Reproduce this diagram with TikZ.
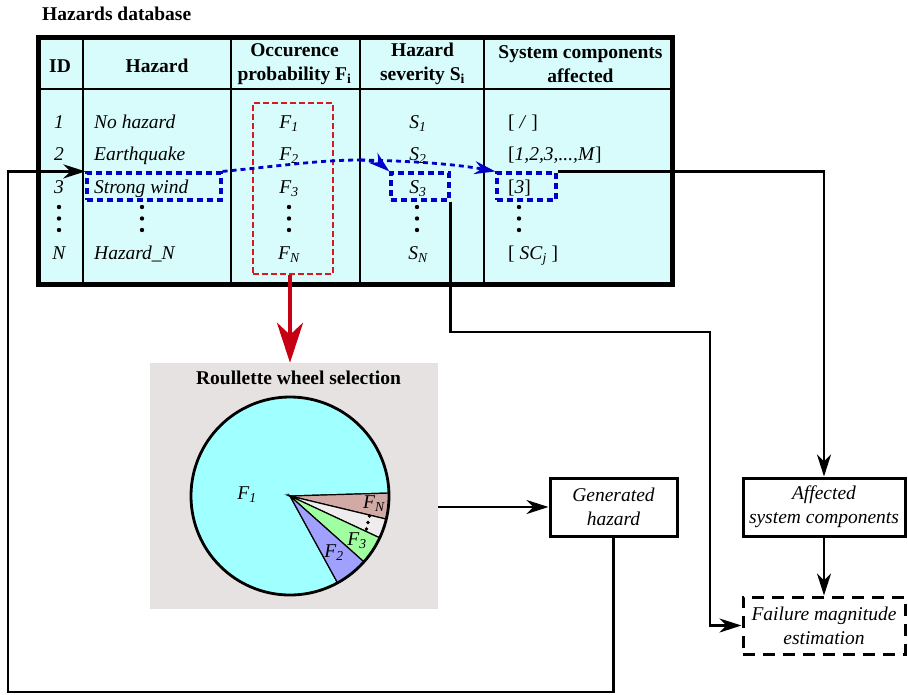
\documentclass[tikz,border=0pt]{standalone}
\usepackage{fontspec}
\setmainfont{Liberation Serif}
\usepackage{tikz}
\usetikzlibrary{arrows.meta, positioning}
\usepackage{xcolor}
\definecolor{dbcyan}{RGB}{216, 252, 252}
\definecolor{wheelgray}{RGB}{230, 226, 226}
\definecolor{pickblue}{RGB}{0, 0, 200}
\definecolor{probred}{RGB}{215, 25, 35}
\definecolor{arrowred}{RGB}{200, 0, 20}
\definecolor{fonefill}{RGB}{160, 255, 255}
\definecolor{ftwofill}{RGB}{160, 160, 255}
\definecolor{fthreefill}{RGB}{160, 255, 160}
\definecolor{frestfill}{RGB}{238, 236, 236}
\definecolor{fnfill}{RGB}{210, 170, 165}

\begin{document}
\fontsize{19.5}{24}\selectfont
\begin{tikzpicture}[
  x=1pt, y=-1pt,
  dbframe/.style={draw, line width=5pt, fill=dbcyan, minimum width=634pt, minimum height=247pt, inner sep=0},
  rule/.style={line width=1.6pt},
  cell/.style={font=\itshape, inner sep=0pt},
  head/.style={font=\bfseries, align=center, inner sep=0pt},
  bluebox/.style={draw=pickblue, line width=3.2pt, dash pattern=on 6pt off 4pt, minimum height=27pt, inner sep=0},
  redbox/.style={draw=probred, line width=2.8pt, dash pattern=on 6pt off 3pt, minimum width=80pt, minimum height=171pt, inner sep=0},
  pickline/.style={pickblue, line width=2.8pt, dash pattern=on 5pt off 4pt},
  pick/.style={pickline, -{Stealth[length=21pt, width=13pt, inset=7pt]}},
  conn/.style={line width=2.4pt, -{Stealth[length=22pt, width=14pt, inset=7pt]}},
  outbox/.style={draw, line width=3pt, minimum height=58pt, align=center, font=\itshape, inner sep=2pt},
  slice/.style={draw, line width=1.2pt}
]
  \useasboundingbox (0,0) rectangle (908,694);

  % Hazards database
  \node[font=\bfseries, anchor=west, inner sep=0] (dbtitle) at (42,14) {Hazards database};
  \node[dbframe] (db) at (355,160.5) {};
  \draw[rule] (83,37) -- (83,284);
  \draw[rule] (231,37) -- (231,284);
  \draw[rule] (360,37) -- (360,284);
  \draw[rule] (484,37) -- (484,284);
  \draw[line width=2.2pt] (38,89) -- (672,89);

  \node[head, anchor=base] (hid) at (60,72) {ID};
  \node[head, anchor=base] (hhaz) at (157,72) {Hazard};
  \node[head] (hocc) at (294.5,64) {Occurence\\probability F\textsubscript{i}};
  \node[head] (hsev) at (422.5,64) {Hazard\\severity S\textsubscript{i}};
  \node[head] (hsc) at (580.5,64) {System components\\affected};

  % ID column
  \node[cell, anchor=base] (id1) at (59,128) {1};
  \node[cell, anchor=base] (id2) at (59,160) {2};
  \node[cell, anchor=base] (id3) at (59,193) {3};
  \node[cell, anchor=base] (idn) at (59,259) {N};

  % Hazard column
  \node[cell, anchor=base west] (hz1) at (94,128) {No hazard};
  \node[cell, anchor=base west] (hz2) at (94,160) {Earthquake};
  \node[cell, anchor=base west] (hz3) at (94,193) {Strong wind};
  \node[cell, anchor=base west] (hzn) at (94,259) {Hazard\_N};

  % Probability column
  \node[cell, anchor=base] (pf1) at (289,128) {F\textsubscript{1}};
  \node[cell, anchor=base] (pf2) at (289,160) {F\textsubscript{2}};
  \node[cell, anchor=base] (pf3) at (289,193) {F\textsubscript{3}};
  \node[cell, anchor=base] (pfn) at (289,259) {F\textsubscript{N}};

  % Severity column
  \node[cell, anchor=base] (sv1) at (418,128) {S\textsubscript{1}};
  \node[cell, anchor=base] (sv2) at (418,160) {S\textsubscript{2}};
  \node[cell, anchor=base] (sv3) at (418,193) {S\textsubscript{3}};
  \node[cell, anchor=base] (svn) at (418,259) {S\textsubscript{N}};

  % Components column
  \node[inner sep=0, anchor=base west] (sc1) at (508,128) {[\ \textit{/}\ ]};
  \node[inner sep=0, anchor=base west] (sc2) at (508,160) {[\textit{1,2,3,...,M}]};
  \node[inner sep=0, anchor=base west] (sc3) at (508,193) {[\textit{3}]};
  \node[inner sep=0, anchor=base west] (scn) at (508,259) {[\ \textit{SC}\textsubscript{\textit{j}}\ ]};

  \foreach \x in {59,142,289,417,519}
    \foreach \y in {207,218.5,230}
      \fill (\x,\y) circle (2.2pt);

  % selection boxes
  \node[redbox] (fbox) at (293,188.5) {};
  \node[bluebox, minimum width=134pt] (swbox) at (154,186.5) {};
  \node[bluebox, minimum width=58pt] (s3box) at (420,186.5) {};
  \node[bluebox, minimum width=59pt] (sc3box) at (526.5,186.5) {};

  \coordinate (fork) at (360,160);
  \draw[pickline] (swbox.north east) .. controls (280,166) and (320,160) .. (fork);
  \draw[pick] (fork) .. controls (375,160) and (383,166) .. (s3box.north west);
  \draw[pick] (fork) .. controls (420,161) and (460,165) .. (sc3box.north west);

  % Roulette wheel
  \node[fill=wheelgray, minimum width=288pt, minimum height=246pt, inner sep=0] (wheel) at (294,486) {};
  \node[font=\bfseries, inner sep=0] (wheeltitle) at (298.5,378) {Roullette wheel selection};
  \draw[arrowred, line width=4.5pt, -{Stealth[length=40pt, width=26pt, inset=12pt]}]
    ([xshift=-3pt]fbox.south) -- ([xshift=-3pt]fbox.south |- wheel.north);

  \coordinate (pc) at (290,496);
  \filldraw[slice, fill=fonefill] (pc) -- ++(61.3:99) arc[start angle=61.3, end angle=358.3, radius=99] -- cycle;
  \filldraw[slice, fill=fnfill] (pc) -- ++(-1.7:99) arc[start angle=-1.7, end angle=13.5, radius=99] -- cycle;
  \filldraw[slice, fill=frestfill] (pc) -- ++(13.5:99) arc[start angle=13.5, end angle=25, radius=99] -- cycle;
  \filldraw[slice, fill=fthreefill] (pc) -- ++(25:99) arc[start angle=25, end angle=41.7, radius=99] -- cycle;
  \filldraw[slice, fill=ftwofill] (pc) -- ++(41.7:99) arc[start angle=41.7, end angle=61.3, radius=99] -- cycle;
  \draw[line width=2.8pt] (pc) circle[radius=99];

  \node[cell] (lf1) at (247,495) {F\textsubscript{1}};
  \node[cell] (lfn) at (374,504) {F\textsubscript{N}};
  \node[cell] (lf3) at (357,541) {F\textsubscript{3}};
  \node[cell] (lf2) at (334,553) {F\textsubscript{2}};
  \fill (369.5,516) circle (1.8pt) (368,522.5) circle (1.8pt) (366.5,529) circle (1.8pt);

  % Output boxes
  \node[outbox, minimum width=127pt] (gen) at (613.5,507) {Generated\\hazard};
  \node[outbox, minimum width=162pt] (aff) at (824,507) {Affected\\system components};
  \node[outbox, dash pattern=on 12pt off 8pt, minimum width=162pt, minimum height=57pt] (fail) at (824,625.5) {Failure magnitude\\estimation};

  % Connectors
  \coordinate (loopcorner) at (8,692);
  \coordinate (sevbend) at (710,332);
  \draw[conn] (gen.west -| wheel.east) -- (gen.west);
  \draw[conn] (gen.south) |- (loopcorner) |- (swbox.north west);
  \draw[conn] (sc3box.north east) -| (aff.north);
  \draw[conn] (s3box.south east) |- (sevbend) |- (fail.west);
  \draw[conn] (aff.south) -- (fail.north);
\end{tikzpicture}
\end{document}
